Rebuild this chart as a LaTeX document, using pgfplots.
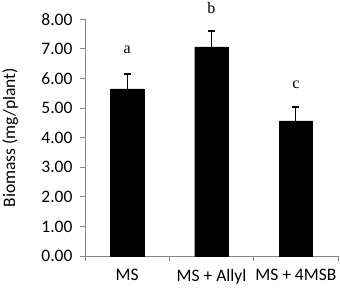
\documentclass[border=0pt]{standalone}
\usepackage{pgfplots}
\pgfplotsset{compat=1.18}
\usepackage{fontspec}
\setmainfont{Carlito}
\newfontfamily\serifl{Liberation Serif}
\definecolor{axgray}{RGB}{134,134,134}
\begin{document}
\begin{tikzpicture}
\begin{axis}[
 scale only axis, width=253pt, height=236.7pt,
 xmin=-0.5, xmax=2.5, ymin=0, ymax=8,
 axis x line=bottom, axis y line=left,
 axis line style={axgray, line width=0.8pt, -},
 xtick={-0.5,0.5,1.5,2.5}, x tick label as interval,
 xticklabels={MS, MS + Allyl, MS + 4MSB},
 ytick={0,1,2,3,4,5,6,7,8},
 tick align=outside, major tick length=5pt,
 tick style={axgray, line width=0.8pt},
 /pgf/number format/assume math mode=true,
 y tick label style={/pgf/number format/.cd, fixed, fixed zerofill, precision=2, /tikz/.cd, xshift=-4pt},
 x tick label style={yshift=-5pt},
 ticklabel style={font=\fontsize{17.5}{20}\selectfont},
 ylabel={Biomass (mg/plant)},
 ylabel style={font=\fontsize{17.5}{20}\selectfont, at={(axis description cs:-0.296,0.5)}, anchor=center, rotate=0},
 clip=false,
]
\addplot[ybar, bar width=33.5pt, fill=black, draw=black,
 error bars/.cd, y dir=plus, y explicit,
 error bar style={black, line width=1.3pt},
 error mark options={rotate=90, mark size=3.5pt, line width=1.3pt, black}]
 coordinates {(0,5.65) +- (0,0.50) (1,7.07) +- (0,0.53) (2,4.57) +- (0,0.47)};
\addplot[draw=none, mark=none, nodes near coords, point meta=explicit symbolic,
 nodes near coords style={anchor=center, font=\serifl\fontsize{16}{18}\selectfont}]
 coordinates {(0,6.96)[a] (1,8.38)[b] (2,5.78)[c]};
\end{axis}
\pgfresetboundingbox
\path[use as bounding box] (-85pt,-33pt) rectangle (255pt,256pt);
\end{tikzpicture}
\end{document}
